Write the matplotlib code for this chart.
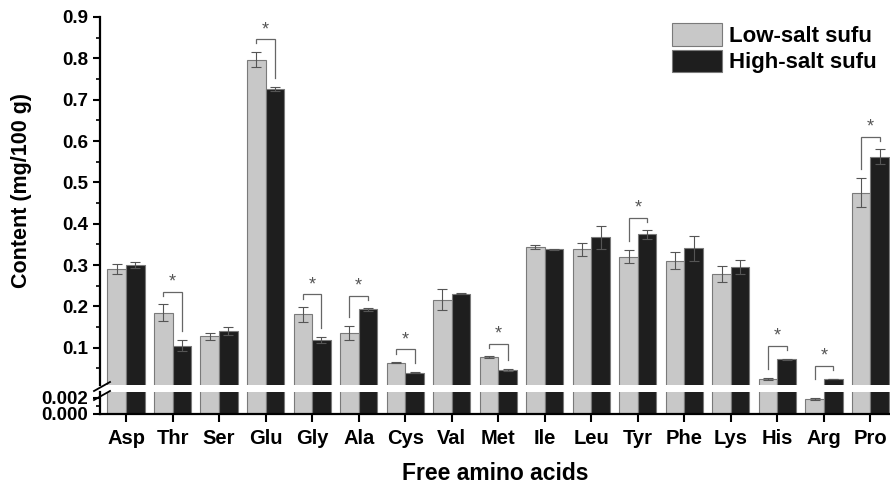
import numpy as np
import matplotlib
matplotlib.use("Agg")
import matplotlib.pyplot as plt
from matplotlib.ticker import MultipleLocator

plt.rcParams["font.family"] = ["Liberation Sans", "DejaVu Sans"]
plt.rcParams["font.weight"] = "bold"

# --------------------------------------------------------------------
# Data
# --------------------------------------------------------------------
amino = ["Asp", "Thr", "Ser", "Glu", "Gly", "Ala", "Cys", "Val", "Met",
         "Ile", "Leu", "Tyr", "Phe", "Lys", "His", "Arg", "Pro"]
low_salt = [0.290, 0.185, 0.128, 0.797, 0.181, 0.136, 0.064, 0.216, 0.078,
            0.343, 0.338, 0.320, 0.311, 0.279, 0.024, 0.0019, 0.475]
high_salt = [0.300, 0.105, 0.141, 0.726, 0.119, 0.193, 0.040, 0.231, 0.046,
             0.338, 0.367, 0.374, 0.341, 0.296, 0.072, 0.025, 0.562]
low_err = [0.012, 0.020, 0.008, 0.019, 0.018, 0.016, 0.002, 0.025, 0.002,
           0.005, 0.016, 0.016, 0.020, 0.020, 0.003, 0.0001, 0.035]
high_err = [0.008, 0.013, 0.009, 0.005, 0.008, 0.003, 0.002, 0.001, 0.002,
            0.001, 0.027, 0.011, 0.030, 0.017, 0.002, 0.0005, 0.018]
significant = ["Thr", "Glu", "Gly", "Ala", "Cys", "Met", "Tyr", "His", "Arg", "Pro"]

LOW_C, HIGH_C = "#c8c8c8", "#1e1e1e"
EDGE = "#7a7a7a"
ERR_C = "#555555"

W, H = 890, 488
fig = plt.figure(figsize=(W / 100, H / 100), dpi=100)

def px_axes(left, top, right, bottom):
    return fig.add_axes([left / W, 1 - bottom / H, (right - left) / W, (bottom - top) / H])

ax_hi = px_axes(100, 17, 890, 385)
ax_lo = px_axes(100, 391.6, 890, 414)

x = np.arange(len(amino))
bw = 0.4
low = np.array(low_salt)
high = np.array(high_salt)

for ax in (ax_hi, ax_lo):
    ax.bar(x - bw / 2, low, bw, color=LOW_C, edgecolor=EDGE, linewidth=0.8,
           label="Low-salt sufu")
    ax.bar(x + bw / 2, high, bw, color=HIGH_C, edgecolor=EDGE, linewidth=0.8,
           label="High-salt sufu")
    ax.errorbar(x - bw / 2, low, yerr=low_err, fmt="none", ecolor=ERR_C,
                elinewidth=0.8, capsize=3.5, capthick=0.8)
    ax.errorbar(x + bw / 2, high, yerr=high_err, fmt="none", ecolor=ERR_C,
                elinewidth=0.8, capsize=3.5, capthick=0.8)
    ax.set_xlim(-0.56, 16.42)
    ax.spines["top"].set_visible(False)
    ax.spines["right"].set_visible(False)
    ax.spines["left"].set_linewidth(1.6)
    ax.spines["bottom"].set_linewidth(1.6)
    ax.tick_params(axis="y", which="major", direction="out", length=5, width=1.5,
                   labelsize=13.5)
    ax.tick_params(axis="y", which="minor", direction="out", length=3, width=1.2)

# upper panel
ax_hi.set_ylim(0.01, 0.9)
ax_hi.spines["bottom"].set_visible(False)
ax_hi.yaxis.set_minor_locator(MultipleLocator(0.05))
ax_hi.set_yticks(np.arange(0.1, 0.91, 0.1))
ax_hi.set_yticklabels([f"{v:.1f}" for v in np.arange(0.1, 0.91, 0.1)])
ax_hi.tick_params(axis="x", bottom=False, labelbottom=False)

# lower panel
ax_lo.set_ylim(0, 0.0028)
ax_lo.set_yticks([0.0, 0.002])
ax_lo.set_yticklabels(["0.000", "0.002"])
ax_lo.yaxis.set_minor_locator(MultipleLocator(0.001))
ax_lo.set_xticks(x)
ax_lo.set_xticklabels(amino, fontsize=14.5, fontweight="bold")
ax_lo.tick_params(axis="x", direction="out", length=6, width=1.5, pad=5)

# significance brackets
for name in significant:
    i = amino.index(name)
    t_lo = low[i] + low_err[i]
    t_hi = high[i] + high_err[i]
    top = max(t_lo, t_hi) + 0.03
    l_end = min(t_lo + 0.022, top - 0.01)
    r_end = min(t_hi + 0.022, top - 0.01)
    xl, xr = i - bw / 2, i + bw / 2
    ax_hi.plot([xl, xl, xr, xr], [l_end, top, top, r_end], color="#666666",
               lw=0.9, solid_joinstyle="miter")
    ax_hi.text(i, top + 0.003, "*", ha="center", va="bottom", fontsize=13,
               color="#555555", fontweight="normal")

# axis break marks
for dy in (0, 9):
    fig.add_artist(plt.Line2D([94 / W, 110 / W],
                              [1 - (391 + dy) / H, 1 - (382 + dy) / H],
                              color="black", lw=1.3))

fig.text(22 / W, 1 - 190 / H, "Content (mg/100 g)", rotation=90, ha="center",
         va="center", fontsize=15.5, fontweight="bold")
fig.text(495 / W, 1 - 473 / H, "Free amino acids", ha="center", va="center",
         fontsize=16.5, fontweight="bold")

ax_hi.legend(loc="upper right", bbox_to_anchor=(1.0, 1.02), frameon=False,
             fontsize=16, handlelength=2.25, handleheight=1.2,
             labelspacing=0.12, handletextpad=0.3, borderaxespad=0.2)

fig.savefig("out.png", dpi=100)
